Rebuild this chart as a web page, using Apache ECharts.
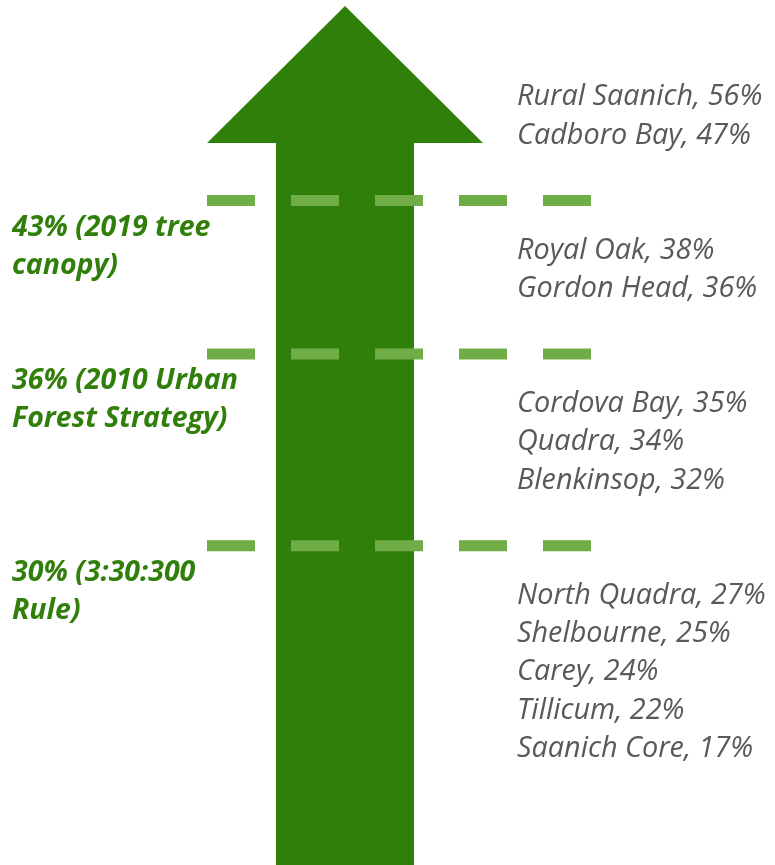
<!DOCTYPE html>
<html>
<head>
<meta charset="utf-8">
<script src="https://cdn.jsdelivr.net/npm/echarts@6/dist/echarts.min.js"></script>
<style>
html, body { margin: 0; padding: 0; background: #fff; }
#chart { width: 775px; height: 865px; }
</style>
</head>
<body>
<div id="chart"></div>
<script>
// canopy cover by neighbourhood, highest first
var areaNames = ['Rural Saanich', 'Cadboro Bay', 'Royal Oak', 'Gordon Head', 'Cordova Bay', 'Quadra',
    'Blenkinsop', 'North Quadra', 'Shelbourne', 'Carey', 'Tillicum', 'Saanich Core'];
var areaValues = [56, 47, 38, 36, 35, 34, 32, 27, 25, 24, 22, 17];

// target lines
var targetValues = [43, 36, 30];
var targetNotes = ['2019 tree canopy', '2010 Urban Forest Strategy', '3:30:300 Rule'];

var GREEN = '#317f0b';
var DASH = '#70ad47';
var GREY = '#595959';

// layout: the vertical axis counts text rows, the horizontal one is the page width
var ROW_PX = 38.35;
var TOP_PX = 97;
var ROW_GAP = 2;        // empty rows where a target line crosses the list
var LINE_SHIFT = 0.2;   // target line sits a bit below the middle of its gap
var NOTE_DROP = 1.2;    // target note centre below its line
var yMin = -TOP_PX / ROW_PX;
var yMax = yMin + 865 / ROW_PX;

var areaRows = [];
var targetRows = [];
var row = 0, t = 0;
areaValues.forEach(function (v, i) {
    if (i > 0) {
        var prev = row;
        row += 1;
        while (t < targetValues.length && v < targetValues[t]) {
            row += ROW_GAP;
            targetRows.push((prev + row) / 2 + LINE_SHIFT);
            t++;
        }
    }
    areaRows.push(row);
});

var areaData = areaNames.map(function (n, i) {
    return { name: n, value: [517, areaRows[i], areaValues[i]] };
});
var noteData = targetValues.map(function (v, i) {
    return { name: targetNotes[i], value: [12, targetRows[i] + NOTE_DROP, v] };
});

var lineSeries = targetValues.map(function (v, i) {
    return {
        type: 'line',
        silent: true,
        symbol: 'none',
        data: [[207, targetRows[i]], [592, targetRows[i]]],
        lineStyle: { color: DASH, width: 11, type: [48, 36], cap: 'butt', opacity: 1 },
        z: 3
    };
});

var chart = echarts.init(document.getElementById('chart'));
chart.setOption({
    animation: false,
    grid: { left: 0, right: 0, top: 0, bottom: 0 },
    xAxis: { type: 'value', min: 0, max: 775, show: false },
    yAxis: { type: 'value', min: yMin, max: yMax, inverse: true, show: false },
    series: [
        {
            // the big arrow
            type: 'custom',
            silent: true,
            clip: false,
            z: 1,
            data: [[0, 0]],
            renderItem: function (params, api) {
                var c = 345, head = 138, shaft = 69;
                var tip = -2.37, shoulder = 1.2;
                var pts = [
                    [c, tip], [c + head, shoulder], [c + shaft, shoulder], [c + shaft, yMax],
                    [c - shaft, yMax], [c - shaft, shoulder], [c - head, shoulder]
                ].map(function (p) { return api.coord(p); });
                return { type: 'polygon', shape: { points: pts }, style: { fill: GREEN } };
            }
        }
    ].concat(lineSeries).concat([
        {
            type: 'scatter',
            symbolSize: 0,
            silent: true,
            z: 4,
            itemStyle: { opacity: 1 },
            data: areaData,
            label: {
                show: true,
                position: 'right',
                distance: 0,
                formatter: function (p) { return p.name + ', ' + p.value[2] + '%'; },
                color: GREY,
                opacity: 1,
                fontFamily: 'Open Sans',
                fontStyle: 'italic',
                fontSize: 28.8
            }
        },
        {
            type: 'scatter',
            symbolSize: 0,
            silent: true,
            z: 4,
            itemStyle: { opacity: 1 },
            data: noteData,
            label: {
                show: true,
                position: 'right',
                distance: 0,
                formatter: function (p) { return p.value[2] + '% (' + p.name + ')'; },
                width: 240,
                overflow: 'break',
                lineHeight: 38,
                color: GREEN,
                opacity: 1,
                fontFamily: 'Open Sans',
                fontStyle: 'italic',
                fontWeight: 'bold',
                fontSize: 28.5
            }
        }
    ])
});
</script>
</body>
</html>
